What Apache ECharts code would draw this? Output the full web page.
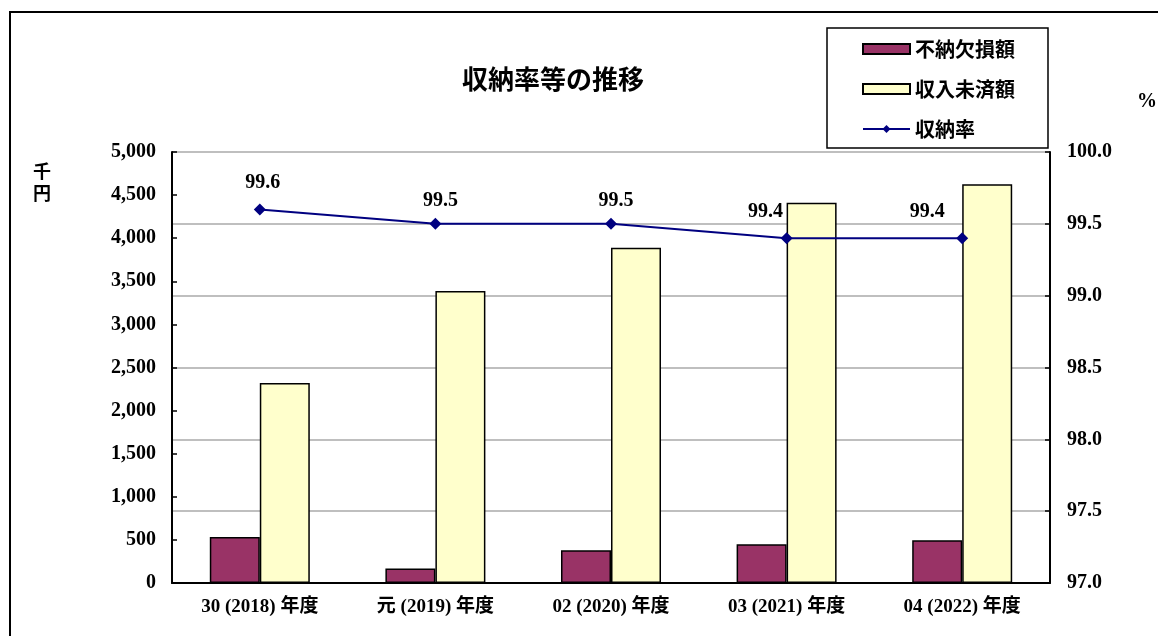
<!DOCTYPE html>
<html>
<head>
<meta charset="utf-8">
<script src="https://cdn.jsdelivr.net/npm/echarts@6/dist/echarts.min.js"></script>
<style>
html,body{margin:0;padding:0;background:#fff;}
#chart{width:1158px;height:636px;}
</style>
</head>
<body>
<div id="chart"></div>
<script>
const categories = ['30 (2018) 年度', '元 (2019) 年度', '02 (2020) 年度', '03 (2021) 年度', '04 (2022) 年度'];
const funouKesson = [535, 167, 380, 450, 495];
const shunyuMisai = [2320, 3387, 3890, 4412, 4625];
const shunouRitsu = [99.6, 99.5, 99.5, 99.4, 99.4];
const seriesNames = ['不納欠損額', '収入未済額', '収納率'];
const leftTicks = { min: 0, max: 5000, interval: 500 };
const rightTicks = { min: 97.0, max: 100.0, interval: 0.5 };

const labelShift = [[3, -1], [5, 3], [5, 3], [-21, 0], [-35, 0]];

const NUM_FONT = '"Liberation Serif", "Noto Sans CJK JP", serif';
const CJK_FONT = '"Noto Sans CJK JP", "Liberation Serif", serif';

const chart = echarts.init(document.getElementById('chart'));
chart.setOption({
  animation: false,
  backgroundColor: '#ffffff',
  title: {
    text: '収納率等の推移',
    left: 548, top: 61, textAlign: 'center',
    textStyle: { fontFamily: CJK_FONT, fontSize: 26, fontWeight: 'bold', color: '#000' }
  },
  legend: {
    orient: 'vertical',
    left: 827, top: 28,
    width: 222,
    padding: [11, 33, 9, 35],
    borderColor: '#000', borderWidth: 1.5,
    itemWidth: 47, itemHeight: 10, itemGap: 20,
    textStyle: { fontFamily: CJK_FONT, fontSize: 20, fontWeight: 'bold', color: '#000' },
    data: [
      { name: seriesNames[0], icon: 'rect' },
      { name: seriesNames[1], icon: 'rect' },
      { name: seriesNames[2] }
    ]
  },
  grid: { left: 172, right: 108, top: 152, bottom: 53, containLabel: false },
  xAxis: {
    type: 'category',
    data: categories,
    axisLine: { lineStyle: { color: '#000', width: 2 } },
    axisTick: { inside: true, length: 5, lineStyle: { color: '#000', width: 1 } },
    axisLabel: { margin: 15, fontFamily: NUM_FONT, fontSize: 19, fontWeight: 'bold', color: '#000' }
  },
  yAxis: [
    {
      type: 'value', position: 'left',
      min: leftTicks.min, max: leftTicks.max, interval: leftTicks.interval,
      axisLine: { show: true, lineStyle: { color: '#000', width: 2 } },
      axisTick: { show: true, inside: true, length: 5, lineStyle: { color: '#000', width: 1.5 } },
      splitLine: { show: false },
      axisLabel: {
        margin: 16, fontFamily: NUM_FONT, fontSize: 20, fontWeight: 'bold', color: '#000',
        formatter: v => v.toLocaleString('en-US')
      }
    },
    {
      type: 'value', position: 'right',
      min: rightTicks.min, max: rightTicks.max, interval: rightTicks.interval,
      axisLine: { show: true, lineStyle: { color: '#000', width: 2 } },
      axisTick: { show: true, inside: true, length: 5, lineStyle: { color: '#000', width: 1.5 } },
      splitLine: { show: true, lineStyle: { color: '#aaaaaa', width: 1.5 } },
      axisLabel: {
        margin: 17, fontFamily: NUM_FONT, fontSize: 20, fontWeight: 'bold', color: '#000',
        formatter: v => v.toFixed(1)
      }
    }
  ],
  series: [
    {
      name: seriesNames[0], type: 'bar', yAxisIndex: 0,
      data: funouKesson,
      barWidth: 50, barGap: '0%',
      itemStyle: { color: '#993366', borderColor: '#000', borderWidth: 1.5 }
    },
    {
      name: seriesNames[1], type: 'bar', yAxisIndex: 0,
      data: shunyuMisai,
      barWidth: 50, barGap: '0%',
      itemStyle: { color: '#FFFFCC', borderColor: '#000', borderWidth: 1.5 }
    },
    {
      name: seriesNames[2], type: 'line', yAxisIndex: 1,
      data: shunouRitsu.map((v, i) => ({ value: v, label: { offset: labelShift[i] } })),
      symbol: 'diamond', symbolSize: 12,
      lineStyle: { color: '#000080', width: 2 },
      itemStyle: { color: '#000080' },
      label: {
        show: true, position: 'top', distance: 10,
        fontFamily: NUM_FONT, fontSize: 20, fontWeight: 'bold', color: '#000',
        formatter: p => p.value.toFixed(1)
      },
      z: 5
    }
  ],
  graphic: [
    {
      type: 'rect', silent: true, z: -1,
      shape: { x: 10, y: 12, width: 1300, height: 800 },
      style: { fill: 'none', stroke: '#000', lineWidth: 2 }
    },
    {
      type: 'text', left: 33, top: 160,
      style: { text: '千\n円', fontFamily: CJK_FONT, fontSize: 18, fontWeight: 'bold', fill: '#000', lineHeight: 22 }
    },
    {
      type: 'text', left: 1137, top: 92,
      style: { text: '%', fontFamily: NUM_FONT, fontSize: 20, fontWeight: 'bold', fill: '#000' }
    }
  ]
});
</script>
</body>
</html>
